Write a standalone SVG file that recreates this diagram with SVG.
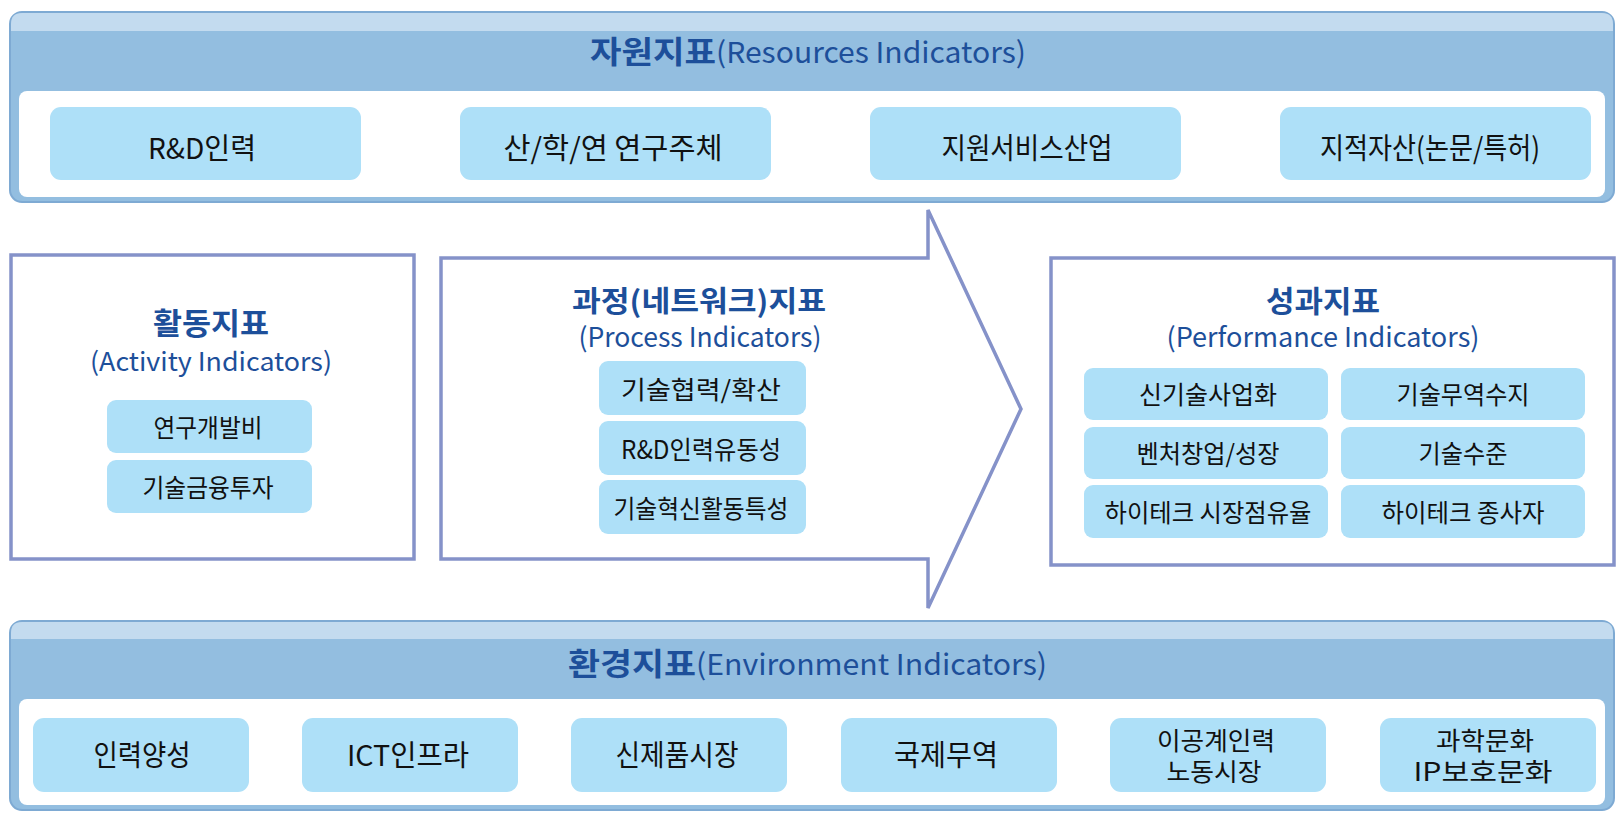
<svg xmlns="http://www.w3.org/2000/svg" width="1622" height="827" viewBox="0 0 1622 827">
<style>
.panel{fill:#93bee0;stroke:#7eaad3;stroke-width:2}
.band{fill:#c3dbef}
.inner{fill:#ffffff}
.node{fill:#aee0f8}
.frame{fill:#ffffff;stroke:#8592c9;stroke-width:3.5}
.t{font-family:"Noto Sans CJK KR","Noto Sans",sans-serif;fill:#111111;text-anchor:middle}
.h{font-family:"Noto Sans CJK KR","Noto Sans",sans-serif;fill:#1d4f9a;text-anchor:middle}
.hb{font-weight:bold}
.big{font-size:29px}
.two{font-size:25px}
.mid{font-size:25px}
</style>
<rect width="1622" height="827" fill="#ffffff"/>

<g id="resources">
  <rect class="panel" x="10" y="12" width="1604" height="190" rx="12"/>
  <path class="band" d="M11,31 L11,24 Q11,13 22,13 L1602,13 Q1613,13 1613,24 L1613,31 Z"/>
  <rect class="inner" x="19" y="91" width="1586" height="106" rx="8"/>
  <text class="h hb" x="653" y="63" font-size="31" textLength="126" lengthAdjust="spacingAndGlyphs">자원지표</text>
  <text class="h" x="871" y="63" font-size="29" textLength="310" lengthAdjust="spacingAndGlyphs">(Resources Indicators)</text>
</g>
<g id="r1"><rect class="node" x="50" y="107" width="311" height="73" rx="11"/><text class="t big" x="202" y="159" textLength="108" lengthAdjust="spacingAndGlyphs">R&amp;D인력</text></g>
<g id="r2"><rect class="node" x="460" y="107" width="311" height="73" rx="11"/><text class="t big" x="613" y="159" textLength="219" lengthAdjust="spacingAndGlyphs">산/학/연 연구주체</text></g>
<g id="r3"><rect class="node" x="870" y="107" width="311" height="73" rx="11"/><text class="t big" x="1027" y="159" textLength="171" lengthAdjust="spacingAndGlyphs">지원서비스산업</text></g>
<g id="r4"><rect class="node" x="1280" y="107" width="311" height="73" rx="11"/><text class="t big" x="1430" y="159" textLength="220" lengthAdjust="spacingAndGlyphs">지적자산(논문/특허)</text></g>

<g id="activity">
  <rect class="frame" x="11" y="255" width="403" height="304"/>
  <text class="h hb" x="211" y="334" font-size="30" textLength="116" lengthAdjust="spacingAndGlyphs">활동지표</text>
  <text class="h" x="211" y="371" font-size="26" textLength="242" lengthAdjust="spacingAndGlyphs">(Activity Indicators)</text>
</g>
<g id="a1"><rect class="node" x="107" y="400" width="205" height="53" rx="9"/><text class="t mid" x="208" y="437" textLength="109" lengthAdjust="spacingAndGlyphs">연구개발비</text></g>
<g id="a2"><rect class="node" x="107" y="460" width="205" height="53" rx="9"/><text class="t mid" x="208" y="497" textLength="131" lengthAdjust="spacingAndGlyphs">기술금융투자</text></g>

<g id="process">
  <polygon class="frame" points="441,258 928,258 928,210 1021,409 928,608 928,559 441,559"/>
  <text class="h hb" x="699" y="312" font-size="29" textLength="254" lengthAdjust="spacingAndGlyphs">과정(네트워크)지표</text>
  <text class="h" x="700" y="347" font-size="27" textLength="243" lengthAdjust="spacingAndGlyphs">(Process Indicators)</text>
</g>
<g id="p1"><rect class="node" x="599" y="361" width="207" height="54" rx="9"/><text class="t mid" x="701" y="399" textLength="160" lengthAdjust="spacingAndGlyphs">기술협력/확산</text></g>
<g id="p2"><rect class="node" x="599" y="421" width="207" height="54" rx="9"/><text class="t mid" x="701" y="459" textLength="160" lengthAdjust="spacingAndGlyphs">R&amp;D인력유동성</text></g>
<g id="p3"><rect class="node" x="599" y="480" width="207" height="54" rx="9"/><text class="t mid" x="701" y="518" textLength="175" lengthAdjust="spacingAndGlyphs">기술혁신활동특성</text></g>

<g id="performance">
  <rect class="frame" x="1051" y="258" width="563" height="307"/>
  <text class="h hb" x="1323" y="312" font-size="30" textLength="114" lengthAdjust="spacingAndGlyphs">성과지표</text>
  <text class="h" x="1323" y="347" font-size="27" textLength="313" lengthAdjust="spacingAndGlyphs">(Performance Indicators)</text>
</g>
<g id="f1"><rect class="node" x="1084" y="368" width="244" height="52" rx="9"/><text class="t mid" x="1208" y="404" textLength="138" lengthAdjust="spacingAndGlyphs">신기술사업화</text></g>
<g id="f2"><rect class="node" x="1341" y="368" width="244" height="52" rx="9"/><text class="t mid" x="1463" y="404" textLength="133" lengthAdjust="spacingAndGlyphs">기술무역수지</text></g>
<g id="f3"><rect class="node" x="1084" y="427" width="244" height="52" rx="9"/><text class="t mid" x="1208" y="463" textLength="143" lengthAdjust="spacingAndGlyphs">벤처창업/성장</text></g>
<g id="f4"><rect class="node" x="1341" y="427" width="244" height="52" rx="9"/><text class="t mid" x="1463" y="463" textLength="89" lengthAdjust="spacingAndGlyphs">기술수준</text></g>
<g id="f5"><rect class="node" x="1084" y="485" width="244" height="53" rx="9"/><text class="t mid" x="1208" y="522" textLength="207" lengthAdjust="spacingAndGlyphs">하이테크 시장점유율</text></g>
<g id="f6"><rect class="node" x="1341" y="485" width="244" height="53" rx="9"/><text class="t mid" x="1463" y="522" textLength="163" lengthAdjust="spacingAndGlyphs">하이테크 종사자</text></g>

<g id="environment">
  <rect class="panel" x="10" y="621" width="1604" height="189" rx="12"/>
  <path class="band" d="M11,639 L11,633 Q11,622 22,622 L1602,622 Q1613,622 1613,633 L1613,639 Z"/>
  <rect class="inner" x="19" y="699" width="1586" height="106" rx="8"/>
  <text class="h hb" x="632" y="675" font-size="31" textLength="128" lengthAdjust="spacingAndGlyphs">환경지표</text>
  <text class="h" x="871.5" y="675" font-size="29" textLength="351" lengthAdjust="spacingAndGlyphs">(Environment Indicators)</text>
</g>
<g id="e1"><rect class="node" x="33" y="718" width="216" height="74" rx="11"/><text class="t big" x="142" y="766" textLength="97" lengthAdjust="spacingAndGlyphs">인력양성</text></g>
<g id="e2"><rect class="node" x="302" y="718" width="216" height="74" rx="11"/><text class="t big" x="408" y="766" textLength="122" lengthAdjust="spacingAndGlyphs">ICT인프라</text></g>
<g id="e3"><rect class="node" x="571" y="718" width="216" height="74" rx="11"/><text class="t big" x="677" y="766" textLength="123" lengthAdjust="spacingAndGlyphs">신제품시장</text></g>
<g id="e4"><rect class="node" x="841" y="718" width="216" height="74" rx="11"/><text class="t big" x="946" y="766" textLength="104" lengthAdjust="spacingAndGlyphs">국제무역</text></g>
<g id="e5"><rect class="node" x="1110" y="718" width="216" height="74" rx="11"/><text class="t two" x="1216" y="750" textLength="118" lengthAdjust="spacingAndGlyphs">이공계인력</text><text class="t two" x="1214" y="781" textLength="95" lengthAdjust="spacingAndGlyphs">노동시장</text></g>
<g id="e6"><rect class="node" x="1380" y="718" width="216" height="74" rx="11"/><text class="t two" x="1485" y="750" textLength="98" lengthAdjust="spacingAndGlyphs">과학문화</text><text class="t two" x="1483" y="781" textLength="139" lengthAdjust="spacingAndGlyphs">IP보호문화</text></g>

<g id="connectors"></g>
</svg>
